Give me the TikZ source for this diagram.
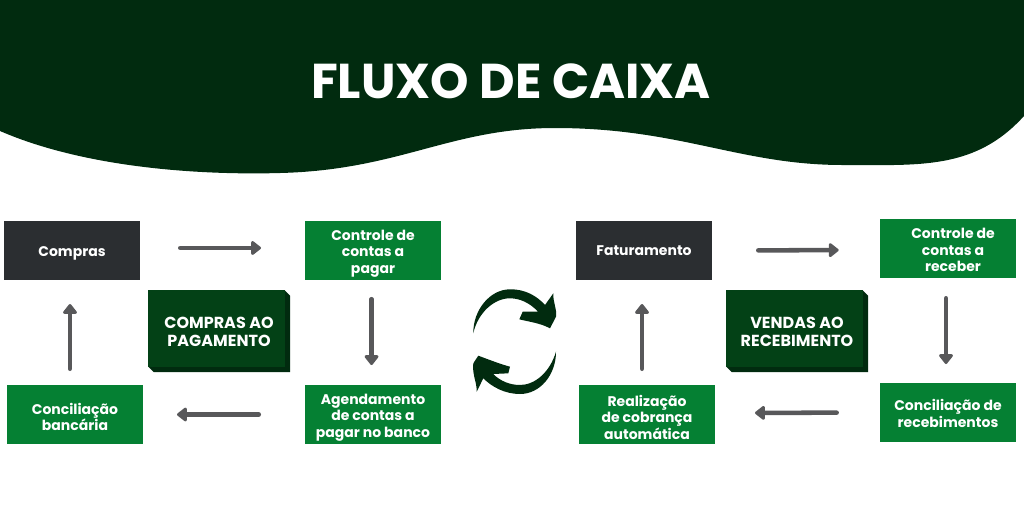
\documentclass[tikz,border=0pt]{standalone}
\usepackage{fontspec}
\setmainfont{Poppins}
\usetikzlibrary{arrows.meta,shapes.misc}
\definecolor{verdeEscuro}{HTML}{012B0F}
\definecolor{verdeFace}{HTML}{034116}
\definecolor{verdeCaixa}{HTML}{058033}
\definecolor{cinzaCaixa}{HTML}{2B2E31}
\definecolor{cinzaSeta}{HTML}{58585A}
\newcommand{\alto}{\rule{0pt}{12.5pt}}
\newcommand{\altob}{\rule{0pt}{10pt}}
\tikzset{
	caixa/.style={inner sep=0pt, outer sep=0pt, minimum width=102pt, minimum height=44.25pt, align=center, text=white, font=\fontsize{10.5pt}{12.3pt}\selectfont\bfseries},
	verde/.style={caixa, fill=verdeCaixa},
	cinza/.style={caixa, fill=cinzaCaixa},
	bloco/.style={caixa, chamfered rectangle, chamfered rectangle corners={north east,south west}, chamfered rectangle xsep=1.9pt, chamfered rectangle ysep=2.25pt, fill=verdeEscuro, minimum width=106.5pt, minimum height=61.5pt, font=\fontsize{12pt}{13.6pt}\selectfont\bfseries,
		path picture={\fill[verdeFace] (path picture bounding box.north west) rectangle ([xshift=-3.75pt,yshift=3.75pt]path picture bounding box.south east);}},
	seta/.style={draw=cinzaSeta, line width=3.4pt, line cap=round, -{Triangle[length=8pt,width=12pt,round]}},
	giro/.style={fill=verdeEscuro}
}
\begin{document}
\begin{tikzpicture}[x=0.75pt, y=-0.75pt]
	\useasboundingbox (0,0) rectangle (1024,512);
	
	% faixa do topo
	\fill[verdeEscuro] (0,0) -- (0,131) .. controls (90,170) and (210,175) .. (280,173)
		.. controls (400,170) and (450,128) .. (555,128)
		.. controls (680,128) and (740,165) .. (843,165)
		.. controls (920,165) and (975,170) .. (1024,116) -- (1024,0) -- cycle;
	\node[inner sep=0pt, text=white, font=\fontsize{36.7pt}{36.7pt}\selectfont\bfseries] (titulo) at (511,81.5) {FLUXO DE CAIXA};
	
	% compras ao pagamento
	\node[cinza] (compras) at (72,250.5) {\alto Compras};
	\node[verde] (contasPagar) at (373,250.5) {\alto Controle de\\contas a\\pagar};
	\node[verde] (agendamento) at (373,414.5) {\alto Agendamento\\de contas a\\pagar no banco};
	\node[verde] (conciliacaoBanco) at (75,414.5) {\alto Conciliação\\bancária};
	\node[bloco] (pagamento) at (219,331) {\altob COMPRAS AO\\PAGAMENTO};
	
	\draw[seta, shorten <=30.2pt, shorten >=33pt] ([yshift=1.9pt]compras.east) -- ([yshift=1.9pt]contasPagar.west);
	\draw[seta, shorten <=14.4pt, shorten >=15pt] ([xshift=-1.1pt]contasPagar.south) -- ([xshift=-1.1pt]agendamento.north);
	\draw[seta, shorten <=34.7pt, shorten >=25.5pt] (agendamento.west) -- (conciliacaoBanco.east);
	\draw[seta, shorten <=12.2pt, shorten >=18pt] ([xshift=-3.75pt]conciliacaoBanco.north) -- ([xshift=-1.5pt]compras.south);
	
	% setas do meio
	\fill[giro] (473.3,333.3) .. controls (473,310) and (490,289.3) .. (510,289.3)
		.. controls (525,289) and (537,296) .. (545,305) -- (553.3,293.3)
		.. controls (553,303) and (557,308) .. (556,316.7) -- (550,328.3)
		.. controls (540,323) and (530,322) .. (519.3,319.3) -- (522.7,311.7) -- (538,311.7)
		.. controls (530,303) and (520,298.3) .. (510,298.3)
		.. controls (495,298) and (478,312) .. (473.3,333.3) -- cycle;
	\fill[giro] (556,351.7) .. controls (556,375) and (540,394) .. (520,394)
		.. controls (505,394) and (492,387) .. (483.3,378.3) -- (476.7,391.7)
		.. controls (477,382) and (472,375) .. (473.3,363.3) -- (478.3,355.7)
		.. controls (490,360) and (500,364) .. (510,366.7) -- (508.3,373.3) -- (493.3,374)
		.. controls (500,381) and (510,385) .. (520,385)
		.. controls (535,385) and (550,372) .. (556,351.7) -- cycle;
	
	% vendas ao recebimento
	\node[cinza] (faturamento) at (644,250.5) {Faturamento};
	\node[verde] (contasReceber) at (948,248.5) {\rule{0pt}{10pt}\hspace*{7.5pt}Controle de\\\hspace*{7.5pt}contas a\\\hspace*{7.5pt}receber};
	\node[verde] (conciliacaoReceb) at (948,412.5) {\altob Conciliação de\\recebimentos};
	\node[verde] (cobranca) at (647,414.5) {\alto Realização\\de cobrança\\automática};
	\node[bloco] (recebimento) at (797,331) {\altob VENDAS AO\\RECEBIMENTO};
	
	\draw[seta, shorten <=34.7pt, shorten >=31pt] (faturamento.east) -- ([yshift=-1.1pt]contasReceber.west);
	\draw[seta, shorten <=15.2pt, shorten >=14.25pt] ([xshift=-1.5pt]contasReceber.south) -- ([xshift=-1.5pt]conciliacaoReceb.north);
	\draw[seta, shorten <=32.5pt, shorten >=30pt] (conciliacaoReceb.west) -- ([yshift=1.1pt]cobranca.east);
	\draw[seta, shorten <=12.2pt, shorten >=18pt] ([xshift=-3.75pt]cobranca.north) -- ([xshift=-1.5pt]faturamento.south);
\end{tikzpicture}
\end{document}
